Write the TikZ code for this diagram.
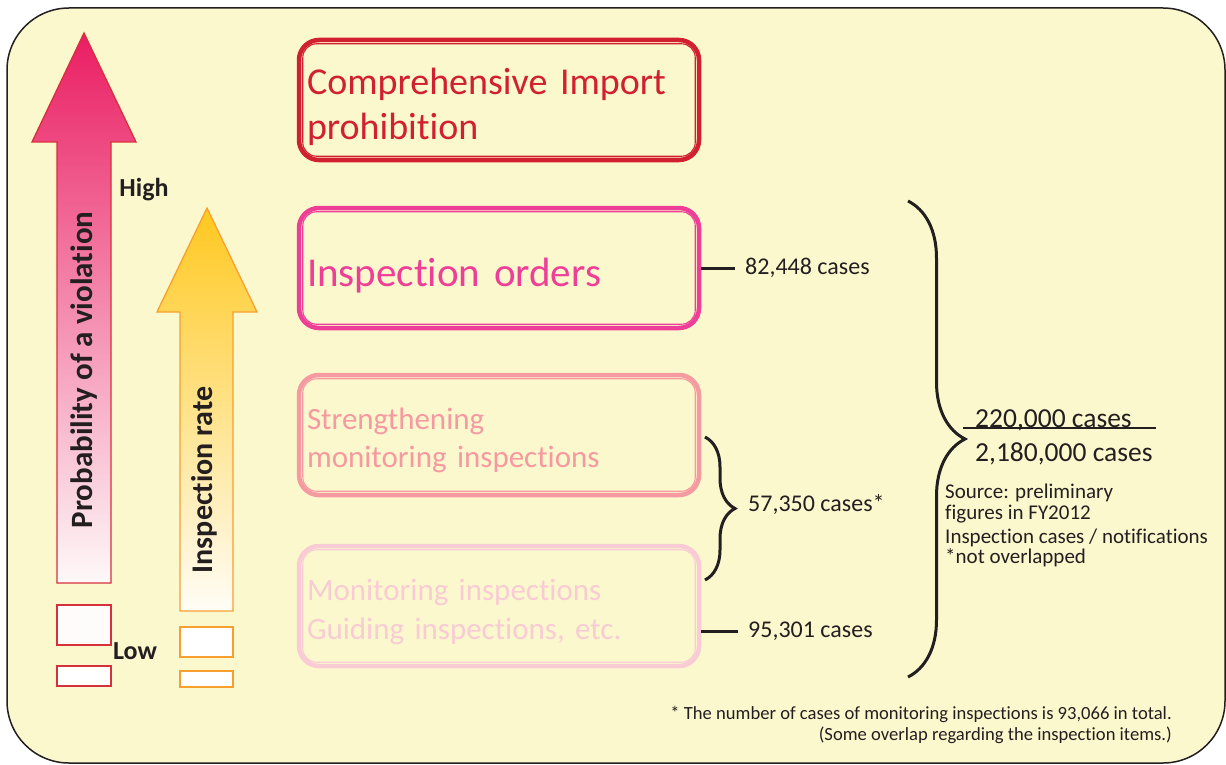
\documentclass[tikz,border=0pt]{standalone}
\usepackage{fontspec}
\setmainfont{Carlito}[Ligatures=NoCommon]
\usetikzlibrary{positioning,decorations.pathreplacing}

\definecolor{ink}{HTML}{231F20}
\definecolor{paper}{HTML}{FCF8CE}
\definecolor{banred}{HTML}{D1202F}
\definecolor{ordpink}{HTML}{EE3E97}
\definecolor{strpink}{HTML}{F59AA0}
\definecolor{monpink}{HTML}{F9CBD4}
\definecolor{riskred}{HTML}{D6303C}
\definecolor{risktop}{HTML}{EA1D63}
\definecolor{ratebrd}{HTML}{F7A030}
\definecolor{ratetop}{HTML}{FFC81F}

\tikzset{
  stagebox/.style={draw, line width=4.5pt, rounded corners=20pt, minimum width=400pt,
    minimum height=120pt, text width=384pt, align=left, inner sep=0pt,
    execute at begin node={\rule{0pt}{1.05em}}},
  casecount/.style={anchor=west, inner sep=0pt, inner xsep=10pt, text=ink, font=\fontsize{24}{28}\selectfont},
  stub/.style={ink, line width=3pt},
  curly/.style={ink, line width=3pt, decorate, decoration={brace, amplitude=#1}},
  lvl/.style={text=ink, font=\bfseries\fontsize{26}{30}\selectfont},
  axislab/.style={rotate=90, text=ink, font=\bfseries\fontsize{31}{36}\selectfont},
  slot/.style={line width=1.5pt},
  total/.style={anchor=base west, inner sep=0pt, text=ink, font=\fontsize{27.5}{32}\selectfont},
  note/.style={align=left, inner sep=0pt, text=ink, font=\fontsize{21}{21}\selectfont},
}

\begin{document}
\begin{tikzpicture}[x=1pt,y=-1pt]
\useasboundingbox (0,0) rectangle (1226,765);
\draw[ink, line width=1.5pt, fill=paper, rounded corners=62pt] (7,8) rectangle (1225,763);

% rising arrows on the left
\draw[riskred, line width=1.3pt, top color=risktop, bottom color=riskred!3]
  (84,33) -- (136,142) -- (111,142) -- (111,583) -- (57,583) -- (57,142) -- (32,142) -- cycle;
\draw[ratebrd, line width=1.3pt, top color=ratetop, bottom color=ratetop!4]
  (207,208) -- (257,312) -- (233,312) -- (233,611) -- (180,611) -- (180,312) -- (157,312) -- cycle;
\draw[slot, riskred, fill=riskred!2] (57,605) rectangle (111,645);
\draw[slot, riskred, fill=white] (57,666) rectangle (111,686);
\draw[slot, ratebrd, fill=white] (180,627) rectangle (233,657);
\draw[slot, ratebrd, fill=white] (180,671) rectangle (233,687);
\node[axislab] (risk) at (84,370) {Probability of a violation};
\node[axislab, font=\bfseries\fontsize{30}{35}\selectfont] (rate) at (204,480) {Inspection rate};
\node[lvl] (high) at (144,190) {High};
\node[lvl] (low) at (135,651) {Low};

% measures
\node[stagebox, draw=banred, text=banred, font=\fontsize{38}{45}\selectfont] (ban) at (499,100) {Comprehensive Import\\prohibition};
\node[stagebox, draw=ordpink, text=ordpink, font=\fontsize{41}{48}\selectfont] (ord) at (499,268) {Inspection orders};
\node[stagebox, draw=strpink, text=strpink, font=\fontsize{31}{38}\selectfont] (str) at (499,435) {Strengthening\\monitoring inspections};
\node[stagebox, draw=monpink, text=monpink, font=\fontsize{31}{39}\selectfont] (mon) at (499,606) {Monitoring inspections\\Guiding inspections, etc.};
\foreach \n/\c in {ban/banred,ord/ordpink,str/strpink,mon/monpink}
  \draw[\c, line width=1.1pt, rounded corners=14pt] ([shift={(6,6)}]\n.north west) rectangle ([shift={(-6,-6)}]\n.south east);

% case counts
\node[casecount] (ordn) at (735,268) {82,448 cases};
\node[casecount] (pairn) at (738,505) {57,350 cases*};
\node[casecount] (monn) at (738,631) {95,301 cases};
\draw[stub] (ord.east) -- (ordn.west);
\draw[stub] (mon.east |- monn.west) -- (monn.west);
\coordinate (pairtop) at (705,437);
\coordinate (pairbot) at (705,580);
\draw[curly=30pt] (pairtop) -- (pairbot);
\coordinate (alltop) at (908,201);
\coordinate (allbot) at (908,677);
\draw[curly=57pt] (alltop) -- (allbot);

% ratio and notes
\node[total] (tot) at (975,427) {220,000 cases};
\node[total] (all) at (975,461) {2,180,000 cases};
\draw[ink, line width=1.8pt] ([xshift=-12pt,yshift=-1pt]tot.base west) -- ([xshift=24pt,yshift=-1pt]tot.base east);
\node[note, anchor=north west] (src) at (945,484) {Source: preliminary\\figures in FY2012};
\node[note, anchor=north west, font=\fontsize{21}{17}\selectfont] (kind) at (945,529) {Inspection cases / notifications\\*not overlapped};
\node[note, align=right, anchor=north east, font=\fontsize{18.6}{21}\selectfont] (foot) at (1172,706) {* The number of cases of monitoring inspections is 93,066 in total.\\(Some overlap regarding the inspection items.)};
\end{tikzpicture}
\end{document}
